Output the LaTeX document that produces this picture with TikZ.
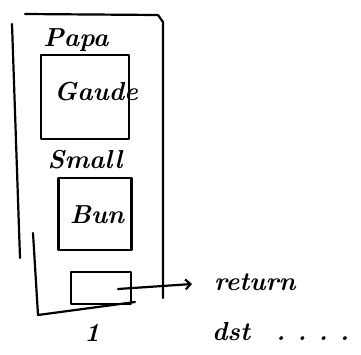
\documentclass[tikz,border=0pt]{standalone}
\usepackage{tikz}
\usetikzlibrary{arrows.meta}

\begin{document}
\begin{tikzpicture}[x=1pt,y=-1pt,line width=2.2pt,line cap=round,line join=round,
	frame/.style={draw,minimum width=#1},
	hand/.style={font=\fontsize{26}{28}\selectfont\bfseries\itshape,inner sep=1pt}]
	\useasboundingbox (0,0) rectangle (361,354);
	\draw (12,24) -- (20,258);
	\draw (25,14) -- (158,15) -- (163,22) -- (163,298);
	\draw (33,233) -- (38,315) -- (135,302);
	\node[frame,minimum width=88pt,minimum height=84pt] (gaude) at (85,97) {};
	\node[frame,minimum width=73pt,minimum height=72pt] (bun) at (95,214) {};
	\node[frame,minimum width=60pt,minimum height=32pt] (ret) at (101,288) {};
	\node[hand] (papa) at (76,40) {Papa};
	\node[hand] at (96,92) {Gaude};
	\node[hand] (small) at (85,160) {Small};
	\node[hand] at (97,215) {Bun};
	\node[hand,anchor=west] (return) at (212,282) {return};
	\node[hand,anchor=west] (dst) at (210,332) {dst\hspace{26pt}.\hspace{12pt}.\hspace{12pt}.\hspace{12pt}.};
	\node[hand] (one) at (92,333) {1};
	\coordinate (retstart) at (118,289);
	\draw[-{Straight Barb[length=5pt,width=10pt]}] (retstart) -- (192,284);
\end{tikzpicture}
\end{document}
